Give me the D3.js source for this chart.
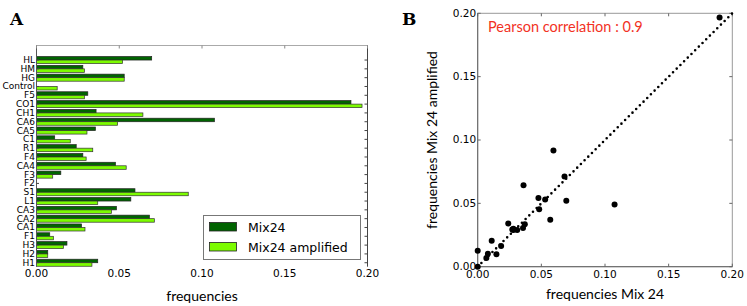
<!DOCTYPE html>
<html>
<head>
<meta charset="utf-8">
<script src="https://cdn.jsdelivr.net/npm/d3@7"></script>
<style>
  body { margin: 0; background: #fff; }
  svg { display: block; }
  text { fill: #000; }
</style>
</head>
<body>
<script>
// categories from bottom to top, as in the figure
var categories = ["H1","H2","H3","F1","CA1","CA2","CA3","L1","S1","F2","F3","CA4",
                  "F4","R1","C1","CA5","CA6","CH1","CO1","F5","Control","HG","HM","HL"];
var mix24 = [0.037,0.0068,0.0184,0.008,0.0272,0.0682,0.0483,0.057,0.0595,0,0.0147,0.0477,
             0.028,0.024,0.011,0.0356,0.1075,0.036,0.190,0.031,0,0.053,0.028,0.0696];
var mix24amp = [0.0335,0.0068,0.0163,0.0102,0.0293,0.0712,0.0453,0.037,0.0917,0,0.0098,0.0542,
                0.030,0.034,0.0204,0.0305,0.049,0.0643,0.1967,0.029,0.0125,0.053,0.029,0.052];
var xTicks = [0, 0.05, 0.10, 0.15, 0.20];
var seriesNames = ["Mix24", "Mix24 amplified"];
var pearson = 0.9;

var width = 747, height = 306;
var darkGreen = "#006400", lightGreen = "#7cfc00";
var tickFont = "'DejaVu Sans', sans-serif";
var labelFont = "Lato, 'Open Sans', sans-serif";

var svg = d3.select("body").append("svg")
    .attr("width", width)
    .attr("height", height);

// ---------- panel A ----------
var ax = {left: 36.5, right: 367.5, top: 45.5, bottom: 266.7};
var xA = d3.scaleLinear().domain([0, 0.2]).range([ax.left, ax.right]);
var yA = d3.scaleLinear().domain([-0.45, 24.65]).range([ax.bottom, ax.top]);
var barH = 0.4;

var gA = svg.append("g");

var rows = categories.map(function(c, i){ return {cat: c, i: i, a: mix24[i], b: mix24amp[i]}; });

gA.selectAll(".dark").data(rows).enter().append("rect")
    .attr("class", "dark")
    .attr("x", xA(0))
    .attr("y", d => yA(d.i + barH))
    .attr("width", d => xA(d.a) - xA(0))
    .attr("height", d => yA(d.i) - yA(d.i + barH))
    .attr("fill", darkGreen)
    .attr("stroke", d => d.a > 0 ? "#222" : "none")
    .attr("stroke-width", 0.7);

gA.selectAll(".light").data(rows).enter().append("rect")
    .attr("class", "light")
    .attr("x", xA(0))
    .attr("y", d => yA(d.i))
    .attr("width", d => xA(d.b) - xA(0))
    .attr("height", d => yA(d.i - barH) - yA(d.i))
    .attr("fill", lightGreen)
    .attr("stroke", d => d.b > 0 ? "#333" : "none")
    .attr("stroke-width", 0.7);

// spines
gA.append("line").attr("x1", ax.left).attr("x2", ax.right).attr("y1", ax.top).attr("y2", ax.top)
    .attr("stroke", "#aaa");
gA.append("line").attr("x1", ax.left).attr("x2", ax.left).attr("y1", ax.top).attr("y2", ax.bottom)
    .attr("stroke", "#555");
gA.append("line").attr("x1", ax.right).attr("x2", ax.right).attr("y1", ax.top).attr("y2", ax.bottom)
    .attr("stroke", "#444");

// top ticks
gA.selectAll(".ttick").data(xTicks).enter().append("line")
    .attr("class", "ttick")
    .attr("x1", d => xA(d)).attr("x2", d => xA(d))
    .attr("y1", ax.top).attr("y2", ax.top + 3)
    .attr("stroke", "#888");
// right ticks
gA.selectAll(".rtick").data(rows).enter().append("line")
    .attr("class", "rtick")
    .attr("x1", ax.right).attr("x2", ax.right - 3)
    .attr("y1", d => yA(d.i)).attr("y2", d => yA(d.i))
    .attr("stroke", "#444");
// left ticks
gA.selectAll(".ltick").data(rows).enter().append("line")
    .attr("class", "ltick")
    .attr("x1", ax.left).attr("x2", ax.left + 2.5)
    .attr("y1", d => yA(d.i)).attr("y2", d => yA(d.i))
    .attr("stroke", "#444");

gA.selectAll(".ylab").data(rows).enter().append("text")
    .attr("class", "ylab")
    .attr("x", ax.left - 1.5)
    .attr("y", d => yA(d.i))
    .attr("dy", "0.33em")
    .attr("text-anchor", "end")
    .attr("fill", "#000")
    .attr("font-family", tickFont)
    .attr("font-size", 9)
    .text(d => d.cat);

gA.selectAll(".xlab").data(xTicks).enter().append("text")
    .attr("class", "xlab")
    .attr("x", d => xA(d))
    .attr("y", 277)
    .attr("text-anchor", "middle")
    .attr("font-family", tickFont)
    .attr("font-size", 10.5)
    .text(d => d.toFixed(2));

gA.append("text")
    .attr("x", xA(0.1)).attr("y", 301)
    .attr("text-anchor", "middle")
    .attr("font-family", labelFont)
    .attr("font-size", 14)
    .text("frequencies");

// legend
var lg = gA.append("g");
lg.append("rect").attr("x", 203.5).attr("y", 215.5).attr("width", 157).attr("height", 44)
    .attr("fill", "#fff").attr("stroke", "#777");
lg.selectAll(".lpatch").data(seriesNames).enter().append("rect")
    .attr("class", "lpatch")
    .attr("x", 209.5)
    .attr("y", (d, i) => 222.5 + i * 20)
    .attr("width", 27).attr("height", 8.5)
    .attr("fill", (d, i) => i == 0 ? darkGreen : lightGreen)
    .attr("stroke", "#222").attr("stroke-width", 0.8);
lg.selectAll(".ltext").data(seriesNames).enter().append("text")
    .attr("class", "ltext")
    .attr("x", 248)
    .attr("y", (d, i) => 231.5 + i * 20)
    .attr("font-family", tickFont)
    .attr("font-size", 12.5)
    .text(d => d);

// ---------- panel B ----------
var bx = {left: 477.7, right: 732.3, top: 13.3, bottom: 266.7};
var xB = d3.scaleLinear().domain([0, 0.2]).range([bx.left, bx.right]);
var yB = d3.scaleLinear().domain([0, 0.2]).range([bx.bottom, bx.top]);
var gB = svg.append("g");

gB.append("rect").attr("x", bx.left).attr("y", bx.top)
    .attr("width", bx.right - bx.left).attr("height", bx.bottom - bx.top)
    .attr("fill", "none").attr("stroke", "#999");
gB.append("line").attr("x1", bx.left).attr("x2", bx.left).attr("y1", bx.top).attr("y2", bx.bottom)
    .attr("stroke", "#666");
gB.append("line").attr("x1", bx.left).attr("x2", bx.right).attr("y1", bx.bottom).attr("y2", bx.bottom)
    .attr("stroke", "#666");

// ticks on all four sides, pointing in
xTicks.forEach(function(t){
    gB.append("line").attr("x1", xB(t)).attr("x2", xB(t)).attr("y1", bx.bottom).attr("y2", bx.bottom - 3).attr("stroke", "#666");
    gB.append("line").attr("x1", xB(t)).attr("x2", xB(t)).attr("y1", bx.top).attr("y2", bx.top + 3).attr("stroke", "#666");
    gB.append("line").attr("x1", bx.left).attr("x2", bx.left + 3).attr("y1", yB(t)).attr("y2", yB(t)).attr("stroke", "#666");
    gB.append("line").attr("x1", bx.right).attr("x2", bx.right - 3).attr("y1", yB(t)).attr("y2", yB(t)).attr("stroke", "#666");
});

gB.selectAll(".bx").data(xTicks).enter().append("text")
    .attr("class", "bx")
    .attr("x", d => xB(d)).attr("y", 278)
    .attr("text-anchor", "middle")
    .attr("font-family", tickFont).attr("font-size", 10.5)
    .text(d => d.toFixed(2));
gB.selectAll(".by").data(xTicks).enter().append("text")
    .attr("class", "by")
    .attr("x", bx.left - 1.5).attr("y", d => yB(d))
    .attr("dy", "0.33em")
    .attr("text-anchor", "end")
    .attr("font-family", tickFont).attr("font-size", 10.5)
    .text(d => d.toFixed(2));

// diagonal y = x
gB.append("line")
    .attr("x1", xB(0)).attr("y1", yB(0))
    .attr("x2", xB(0.2)).attr("y2", yB(0.2))
    .attr("stroke", "#000").attr("stroke-width", 2.6)
    .attr("stroke-linecap", "round")
    .attr("stroke-dasharray", "0 5.2");

gB.selectAll(".pt").data(rows).enter().append("circle")
    .attr("class", "pt")
    .attr("cx", d => xB(d.a))
    .attr("cy", d => yB(d.b))
    .attr("r", 3)
    .attr("fill", "#000");

gB.append("text")
    .attr("x", 488).attr("y", 32)
    .style("fill", "#f2321f")
    .attr("font-family", labelFont).attr("font-size", 14.5)
    .text("Pearson correlation : " + pearson);

gB.append("text")
    .attr("x", xB(0.1)).attr("y", 299)
    .attr("text-anchor", "middle")
    .attr("font-family", labelFont).attr("font-size", 14)
    .text("frequencies Mix 24");

gB.append("text")
    .attr("transform", "translate(437," + ((bx.top + bx.bottom) / 2) + ") rotate(-90)")
    .attr("text-anchor", "middle")
    .attr("font-family", labelFont).attr("font-size", 14)
    .text("frequencies Mix 24 amplified");

// panel letters
svg.append("text").attr("x", 10).attr("y", 25)
    .attr("font-family", "'DejaVu Serif', serif").attr("font-weight", "bold").attr("font-size", 17)
    .text("A");
svg.append("text").attr("x", 402).attr("y", 25)
    .attr("font-family", "'DejaVu Serif', serif").attr("font-weight", "bold").attr("font-size", 17)
    .text("B");
</script>
</body>
</html>
